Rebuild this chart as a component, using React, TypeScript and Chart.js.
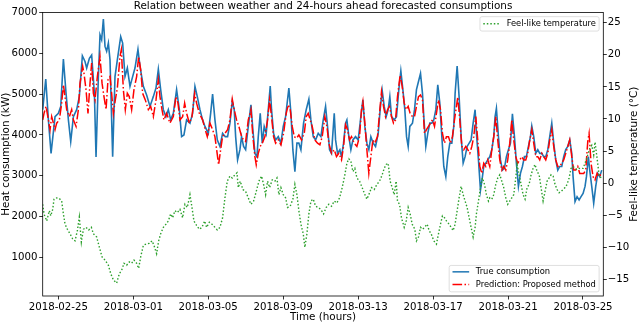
import React, { useEffect, useRef } from "react";
import { Chart, registerables } from "chart.js";
Chart.register(...registerables);

// x values are hours since 2018-02-25 00:00
const tickHours = [0, 96, 192, 288, 384, 480, 576, 672];
const tickLabels = ["2018-02-25", "2018-03-01", "2018-03-05", "2018-03-09", "2018-03-13", "2018-03-17", "2018-03-21", "2018-03-25"];
const kwTicks = [1000, 2000, 3000, 4000, 5000, 6000, 7000];
const tempTicks = [-15, -10, -5, 0, 5, 10, 15, 20, 25];

const trueHours = [-20,-16.1,-12.7,-9.3,-4.2,0.1,3.1,6.5,9.9,12.9,15.9,19.3,23.5,26.9,30.8,34.2,36.3,39.8,42.7,46.2,48.3,51.3,53.4,55.5,57.7,59.8,61.9,64.1,66.2,69.6,72.6,75.6,79.9,82.4,85.4,88.4,91.8,95.2,98.2,102,104.6,108.9,113.1,117.4,121.7,125.1,128.1,131.1,134.5,137.9,140.9,143.9,147.3,151.5,155,157.9,160.9,164.3,168.6,172,175,178,181.4,184.8,187.8,192.1,195.1,197.6,200.6,203.6,207,210.4,213.8,216.8,219.8,222.8,225.3,227.1,229.6,232.6,234.7,237.3,239.9,243.3,246.7,249.2,251.8,254.4,256.1,258.6,261.2,263.7,266.3,268.9,271.4,273.1,275.7,278.3,281.7,285.1,288.1,291.1,295.3,297.9,300.4,303,305.6,308.1,310.7,314.1,317.5,320.9,323.5,326.5,329.5,332.9,336.3,339.3,342.3,344.8,347.4,349.9,353.4,355.1,357.6,360.6,362.7,365.3,367.9,369.6,372.1,374.7,377.3,380.7,384.1,387.5,390.1,392.6,395.2,397.7,400.3,403.3,406.3,409.7,412.2,414.8,417.4,419.9,422.5,424.6,426.8,430.2,433.1,436.1,438.7,441.3,443.8,446,448.1,450.2,453.6,456.2,458.7,461.3,463.9,466.4,468.1,470.7,473.2,475.8,478.4,480.9,483.5,486,488.6,491.2,493.7,496.3,498.8,501.4,504,506.5,508.2,510.8,513.3,515.9,518.5,521,523.6,526.2,528.7,531.3,533.8,535.5,538.1,540.7,543.2,544.9,547.5,550,552.6,555.2,557.7,559.4,561.1,563.7,566.3,568.8,571.4,573.9,576.5,579.1,581.6,584.2,586.7,589.3,591.9,594.4,597,599.5,602.1,604.7,606.4,608.9,611.5,614.1,616.6,619.2,621.7,624.3,626.9,629.4,632,634.5,637.1,639.7,642.2,644.8,647.3,649.9,652.5,655,657.6,659.3,661.8,664.4,667,669.5,672.1,674.6,676.4,678.9,680.6,683.2,685.7,688.3,690.9,693.4,696];
const trueKW = [4620,5370,4370,3550,4450,4530,4700,5860,5020,4370,3840,4450,4620,4940,5940,5800,5640,5880,5960,5020,3460,5430,6450,6330,6840,6170,6050,6250,5840,3470,5430,5840,6410,6250,5430,5640,5190,5430,5640,6100,5680,5190,4980,4700,4940,5150,5610,5110,4620,4450,4620,4370,4530,5110,4620,3960,4000,4370,4290,4530,5190,4940,4620,4370,4210,4040,4530,5000,4370,3880,3720,4040,3960,3960,4290,4820,4620,3960,3390,3640,3960,3720,3640,4210,4740,4130,3550,3470,3960,4530,3800,4210,4040,4620,5200,4620,4040,3880,3960,3800,4210,4450,5150,4530,3640,3100,3800,3800,3640,4290,4620,4880,4370,3960,3880,4040,3960,4370,4700,4210,3640,3550,4530,3880,3550,3640,3470,3800,4290,4370,3960,3640,3880,3960,3880,4450,4860,4210,3800,3640,3960,3800,3720,4040,4620,5090,4700,4450,4620,4940,4450,4370,4450,5110,5570,5110,4620,3960,3720,4210,4290,4620,5110,5310,5510,5020,4450,3720,4040,4290,4290,4370,4620,5230,4780,3960,3230,2980,3470,3800,3800,4210,5020,5690,4940,3960,3310,3470,3720,3800,3880,4290,4620,4040,3390,2650,2980,3230,3310,3390,3470,3640,3960,4450,4650,3960,3390,3140,3190,3470,3640,3800,4520,3960,3310,2740,3060,3230,3470,3470,3720,3960,4220,3960,3550,3640,3550,3550,3470,3470,3640,3960,4290,3800,3390,3140,3230,3230,3470,3640,3720,3880,3550,2980,2370,2490,2410,2490,2570,2740,2980,3470,3140,2740,2330,2740,3060,2980,3140];

const predHours = [-20,-18.3,-15.7,-12.7,-10.6,-8.5,-6.3,-4.2,-2.1,1.3,4.3,6.5,8.6,10.7,14.2,17.1,19.3,22.7,25.7,27.8,31.2,32.9,35.5,38,40.6,42.7,44.9,47,50,53.4,56,58.5,61.1,63.6,66.2,68.3,70.5,73,75.6,79,80.7,83.3,85.8,88.4,90.9,93.9,96.9,100.3,102.9,105.5,108,111.4,115.3,118.3,121.7,125.1,128.1,130.2,132.8,135.3,138.7,143,147.3,150.7,153.3,155.8,159.2,161.8,164.3,167.8,171.2,174.6,177.1,180.6,184.8,188.2,190.8,194.2,197.6,200.6,202.8,205.3,207.9,210.4,213.4,216.8,219.8,222.8,225.3,228.3,231.3,234.7,237.3,239.9,243.3,246.7,249.2,251.8,253.5,256.1,258.6,261.2,264.6,268,270.6,273.1,275.7,278.3,281.7,285.1,288.5,291.9,294.5,297,299.6,302.2,305.1,308.1,311.5,315,317.5,320.1,322.6,325.2,328.6,332,335,338,341.4,344,346.5,349.9,353.4,356.3,359.3,362.7,365.3,367.9,370.4,373,375.5,379,382.4,385.8,388.3,390.1,392.6,395.2,397.7,400.3,402.9,405.4,408.8,411.8,413.9,416.5,419.1,421.6,424.2,426.8,429.3,431.9,434.4,437.8,440.4,443,445.5,448.1,450.6,453.6,456.2,458.7,461.3,463.9,466.4,469,471.5,474.1,476.7,479.2,481.8,484.3,486.9,489.5,492,494.6,497.1,499.7,502.3,504.8,507.4,509.9,511.6,514.2,516.8,519.3,521.9,524.4,527,529.6,532.1,534.7,537.2,539.8,542.4,544.9,547.5,550,552.6,555.2,557.7,560.3,562.8,565.4,568,570.5,573.1,575.6,578.2,580.8,583.3,585.9,588.4,591,593.6,596.1,598.7,601.2,603.8,606.4,608.9,611.5,614.1,616.6,619.2,621.7,624.3,626.9,629.4,632,634.5,637.1,639.7,642.2,644.8,647.3,649.9,652.5,655,657.6,660.1,662.7,665.3,667.8,670.4,672.9,675.5,678.1,679.8,682.3,684.9,687.4,690,692.6,696];
const predKW = [4370,4530,4700,4370,4130,4450,4290,4130,4290,4370,4780,5230,4940,4620,4450,4620,4370,4210,4620,5270,5680,5510,5110,4530,5270,5760,5020,4860,5430,5920,5270,4940,4620,5350,5430,5020,4530,4860,5150,5920,6090,5110,4620,5020,4940,4620,5110,5430,5920,5600,5020,4860,4620,4700,4450,4860,5350,4940,4620,4370,4530,4290,4450,4940,4780,4370,4450,4780,4530,4290,4450,5020,4780,4530,4370,4130,3960,4290,4130,3960,3640,3270,3640,3960,4040,4130,4370,4880,4620,4370,4210,3960,3880,3840,4370,4620,3960,3470,3270,3550,3720,3800,3960,4370,4860,4450,3960,3800,3880,3760,4040,4530,4740,4620,4210,3960,3920,4000,3880,4040,4450,4530,4370,4210,3880,3800,3760,3960,4450,4210,3800,3550,3640,3470,3550,3390,3720,4250,4130,3880,3960,3800,3720,3960,4620,4820,4290,3640,3060,3470,3880,3800,3960,4620,5060,4700,4450,4620,4700,4450,4290,4370,4940,5470,5190,4780,4620,4700,4530,4450,4450,4700,4940,4980,4860,4040,4130,4210,4290,4370,4210,4530,4860,4620,4040,3800,3960,3960,3800,3960,4370,4700,4930,4370,3720,3640,3720,3640,3550,3720,3960,4450,3880,3230,3060,3310,3230,3390,3230,3640,3960,4450,3880,3390,3140,3230,3140,3390,3800,4370,3880,3470,3310,3390,3470,3390,3390,3550,3880,4130,3800,3470,3470,3390,3550,3470,3390,3550,3880,4130,3720,3390,3230,3230,3310,3390,3550,3720,3880,3470,3140,3140,3230,3060,3060,3060,3140,3840,4040,3310,2980,2900,3060,2980,3060];

const tempHours = [-20,-18.3,-14.9,-11.5,-9.7,-7.2,-5.5,-2.1,1.3,4.3,6.5,8.6,11.6,15,18.4,21.4,24.4,26.9,29.5,32.1,35.5,38.9,42.3,44.9,49.1,52.6,56,59.8,64.1,67.1,70.5,74.7,78.2,81.1,84.1,87.5,90.9,93.9,96.9,100.3,102.9,105.5,108.9,112.3,116.6,120,122.5,125.9,128.5,131.1,134.5,137.9,140.9,143.9,146.4,149.4,152.4,155.8,159.2,162.2,165.2,168.6,171.2,173.7,177.1,180.6,184,187.4,189.9,193.4,196.8,200.6,203.6,207,210.4,213.4,216.4,219.8,222.8,226.2,228.8,230.5,233,236.4,239.9,243.3,246.7,250.1,253.5,256.9,260.3,262.9,265.5,268,270.6,274,277.4,280,282.5,285.1,288.1,291.1,293.6,297,300.4,303,305.6,308.1,310.7,313.7,315.8,318.4,320.9,323.5,326.5,329.5,332.9,336.3,339.7,343.1,346.5,349.9,353.4,356.8,360.2,363.6,367,369.6,372.1,374.7,377.3,379.8,382.4,385.8,389.2,392.6,395.2,397.7,401.1,404.6,408,411.4,414.8,417.4,419.9,422.5,425,427.6,430.2,432.7,434.4,437,439.5,443,445.5,448.1,450.6,453.2,456.6,458.7,461.3,463.9,466.4,469,472.4,474.9,477.5,480.9,484.3,486.9,489.5,492,494.6,497.1,500.5,503.1,505.7,508.2,510.8,513.3,515.9,518.5,521,523.6,526.2,528.7,531.3,533.8,535.5,538.1,540.7,543.2,545.8,548.3,550.9,552.6,555.2,557.7,560.3,562.8,565.4,568,570.5,573.1,575.6,578.2,580.8,583.3,585.9,587.6,590.2,592.7,595.3,597.8,600.4,603,605.5,608.1,610.6,613.2,615.8,618.3,620.9,623.4,626,628.6,631.1,633.7,636.2,638.8,641.4,643.9,646.5,649,651.6,654.2,656.7,659.3,661.8,664.4,667,669.5,672.1,675.5,678.1,680.6,683.2,685.7,687.4,690,692.6,695.1];
const tempC = [-3.3,-4.8,-5.9,-4.3,-5.1,-4.1,-2.5,-2.3,-2.4,-2.8,-4.8,-6.4,-7.2,-7.9,-8.7,-9,-7.4,-5.3,-9.2,-7.2,-6.9,-7.3,-6.9,-7.9,-8.4,-10,-11.5,-12,-12.8,-14.1,-15.1,-15.6,-14.1,-13.6,-12.5,-12.8,-12.3,-12.5,-12,-12.5,-13.3,-11.5,-9.7,-9.5,-9.4,-9,-9.7,-11,-9,-7.9,-6.9,-6.4,-5.9,-4.8,-5.4,-4.3,-4.6,-4.1,-5.4,-3.3,-3.8,-1.8,-3.8,-5.9,-6.6,-7.2,-6.9,-5.9,-6.9,-6.1,-6.4,-6.9,-7.3,-6.9,-5.4,-2.3,0.3,1.1,0.8,1.3,1.6,-0.7,0.3,-1,-1.3,-2.3,-3.3,-2.8,-1.3,0.3,1.1,-0.2,-1.8,0.3,-0.7,0.5,0.3,0.8,-1.8,-0.7,-1.8,-2.3,-3.8,-3.6,-2.5,-0.2,-1.8,-4.3,-6.4,-7.9,-10,-7.9,-4.8,-2.8,-2.5,-3.6,-3.8,-4.1,-4.8,-3.8,-3.3,-3.6,-2.8,-3.1,-2.3,-0.7,1.3,3.1,3.8,3.4,1.8,2.3,0.8,0.3,-0.7,-1.8,-2.5,-1.8,-0.7,-1,-0.2,0.3,1.3,2.3,2.9,3.1,0.3,-0.7,-1.8,0.3,-2.8,-3.3,-5.4,-6.9,-5.9,-3.8,-4.8,-6.4,-7.2,-9,-8.4,-6.9,-7.2,-6.9,-6.4,-7.4,-7.9,-9,-9.5,-7.9,-6.4,-5.1,-5.4,-5.9,-6.4,-6.9,-7.4,-6.4,-4.3,-2.3,-0.5,-1.8,-2.8,-3.8,-5.4,-6.9,-8.4,-6.9,-4.8,-2.8,-0.7,0.8,-0.2,-1.8,-2.8,-2.3,-2.5,-1.8,-0.2,0.8,1.3,0.3,-0.7,-2.3,-3.3,-2.8,-2.3,-1.8,0.8,2.9,1.3,-0.2,-1.8,-2.5,-0.7,-0.2,1.3,2.3,2.9,1.8,1.3,-0.7,-2.8,-1.3,0.3,0.8,1.3,1.1,-0.2,-1,-1.5,-1.3,-1,-0.7,-0.2,0.8,2.3,2.6,2.3,2.1,2.3,2.3,2.3,3.4,4.4,5.4,5.9,4.4,6.4,3.9,1.3,0.8];

const FONT = "'DejaVu Sans', 'Liberation Sans', sans-serif";
const BLUE = "#1f77b4";
const RED = "#ff0000";
const GREEN = "#2ca02c";
const DASHDOT = [9.6, 2.4, 1.5, 2.4];
const DOT = [1.5, 2.0];

const zip = (xs: number[], ys: number[]) => xs.map((x, i) => ({ x, y: ys[i] }));

const overlay = {
  id: "overlay",
  afterDraw(chart: any) {
    const ctx = chart.ctx as CanvasRenderingContext2D;
    const ca = chart.chartArea;
    ctx.save();
    // frame
    ctx.strokeStyle = "#000";
    ctx.lineWidth = 0.8;
    ctx.setLineDash([]);
    ctx.strokeRect(ca.left, ca.top, ca.right - ca.left, ca.bottom - ca.top);

    ctx.fillStyle = "#000";
    ctx.font = `10.4px ${FONT}`;
    ctx.textAlign = "center";
    ctx.textBaseline = "alphabetic";
    const cx = (ca.left + ca.right) / 2;
    const cy = (ca.top + ca.bottom) / 2;
    ctx.fillText("Relation between weather and 24-hours ahead forecasted consumptions", cx, 9.2);
    ctx.fillText("Time (hours)", cx, 319.5);
    ctx.save();
    ctx.translate(8.8, cy);
    ctx.rotate(-Math.PI / 2);
    ctx.fillText("Heat consumption (kW)", 0, 0);
    ctx.restore();
    ctx.save();
    ctx.translate(637.4, cy);
    ctx.rotate(-Math.PI / 2);
    ctx.fillText("Feel-like temperature (°C)", 0, 0);
    ctx.restore();

    // legends
    const fs = 8.33;
    ctx.font = `${fs}px ${FONT}`;
    const bp = 0.4 * fs, hl = 2 * fs, htp = 0.8 * fs, pad = 0.5 * fs;
    const drawBox = (l: number, t: number, w: number, h: number) => {
      ctx.beginPath();
      (ctx as any).roundRect(l, t, w, h, 2);
      ctx.fillStyle = "rgba(255,255,255,0.8)";
      ctx.fill();
      ctx.strokeStyle = "#d6d6d6";
      ctx.lineWidth = 0.8;
      ctx.setLineDash([]);
      ctx.stroke();
    };
    const drawHandle = (x: number, y: number, color: string, dash: number[]) => {
      ctx.beginPath();
      ctx.strokeStyle = color;
      ctx.lineWidth = 1.5;
      ctx.setLineDash(dash);
      ctx.moveTo(x, y);
      ctx.lineTo(x + hl, y);
      ctx.stroke();
      ctx.setLineDash([]);
    };
    ctx.textAlign = "left";
    ctx.textBaseline = "middle";
    // upper legend
    const t1 = "Feel-like temperature";
    const w1 = ctx.measureText(t1).width + 2 * bp + hl + htp;
    const r = ca.right - pad;
    const l1 = r - w1;
    const top1 = ca.top + pad;
    drawBox(l1, top1, w1, 14.4);
    drawHandle(l1 + bp, top1 + 7.2, GREEN, DOT);
    ctx.fillStyle = "#000";
    ctx.fillText(t1, l1 + bp + hl + htp, top1 + 7.4);
    // lower legend
    const ta = "True consumption";
    const tb = "Prediction: Proposed method";
    const w2 = Math.max(ctx.measureText(ta).width, ctx.measureText(tb).width) + 2 * bp + hl + htp;
    const l2 = r - w2;
    const h2 = 26.4;
    const top2 = ca.bottom - pad - h2;
    drawBox(l2, top2, w2, h2);
    drawHandle(l2 + bp, top2 + 6.4, BLUE, []);
    drawHandle(l2 + bp, top2 + 19.0, RED, DASHDOT);
    ctx.fillStyle = "#000";
    ctx.fillText(ta, l2 + bp + hl + htp, top2 + 6.6);
    ctx.fillText(tb, l2 + bp + hl + htp, top2 + 19.2);
    ctx.restore();
  },
};

export default function App() {
  const ref = useRef<HTMLCanvasElement | null>(null);
  useEffect(() => {
    if (!ref.current) return;
    const tickGrid = {
      display: true,
      drawOnChartArea: false,
      drawTicks: true,
      tickLength: 3.5,
      tickWidth: 0.8,
      tickColor: "#000",
      color: "#000",
    };
    const tickFont = { family: FONT, size: 10.2 };
    const chart = new Chart(ref.current, {
      type: "line",
      data: {
        datasets: [
          {
            label: "Feel-like temperature",
            data: zip(tempHours, tempC),
            yAxisID: "y1",
            borderColor: GREEN,
            borderWidth: 1.4,
            borderDash: DOT,
            pointRadius: 0,
            fill: false,
            order: 0,
          },
          {
            label: "Prediction: Proposed method",
            data: zip(predHours, predKW),
            yAxisID: "y",
            borderColor: RED,
            borderWidth: 1.5,
            borderDash: DASHDOT,
            pointRadius: 0,
            fill: false,
            order: 1,
          },
          {
            label: "True consumption",
            data: zip(trueHours, trueKW),
            yAxisID: "y",
            borderColor: BLUE,
            borderWidth: 1.6,
            pointRadius: 0,
            fill: false,
            order: 2,
          },
        ],
      },
      options: {
        animation: false,
        responsive: false,
        devicePixelRatio: 1,
        layout: { padding: { top: 12.5, left: 0, right: 0, bottom: 0 } },
        plugins: { legend: { display: false }, tooltip: { enabled: false }, title: { display: false } },
        elements: { line: { tension: 0 } },
        scales: {
          x: {
            type: "linear",
            position: "bottom",
            min: -20,
            max: 698,
            afterBuildTicks: (s: any) => {
              s.ticks = tickHours.map((v) => ({ value: v }));
            },
            afterFit: (s: any) => {
              s.height = 27;
            },
            ticks: {
              autoSkip: false,
              maxRotation: 0,
              minRotation: 0,
              padding: 2,
              color: "#000",
              font: tickFont,
              callback: (v: any) => {
                const i = tickHours.indexOf(Number(v));
                return i >= 0 ? tickLabels[i] : "";
              },
            },
            grid: tickGrid,
            border: { display: false },
          },
          y: {
            type: "linear",
            position: "left",
            min: 57,
            max: 7000,
            afterBuildTicks: (s: any) => {
              s.ticks = kwTicks.map((v) => ({ value: v }));
            },
            afterFit: (s: any) => {
              s.width = 42.7;
            },
            ticks: { padding: 1.8, color: "#000", font: tickFont, callback: (v: any) => String(v) },
            grid: tickGrid,
            border: { display: false },
          },
          y1: {
            type: "linear",
            position: "right",
            min: -17.6,
            max: 26.6,
            afterBuildTicks: (s: any) => {
              s.ticks = tempTicks.map((v) => ({ value: v }));
            },
            afterFit: (s: any) => {
              s.width = 36.7;
            },
            ticks: {
              padding: 1,
              color: "#000",
              font: tickFont,
              callback: (v: any) => (Number(v) < 0 ? "\u2212" + Math.abs(Number(v)) : String(v)),
            },
            grid: tickGrid,
            border: { display: false },
          },
        },
      },
      plugins: [overlay],
    } as any);
    return () => chart.destroy();
  }, []);
  return (
    <div style={{ position: "absolute", left: 0, top: 0, width: 640, height: 323, background: "#fff" }}>
      <canvas ref={ref} width={640} height={323} style={{ display: "block", width: 640, height: 323 }} />
    </div>
  );
}
